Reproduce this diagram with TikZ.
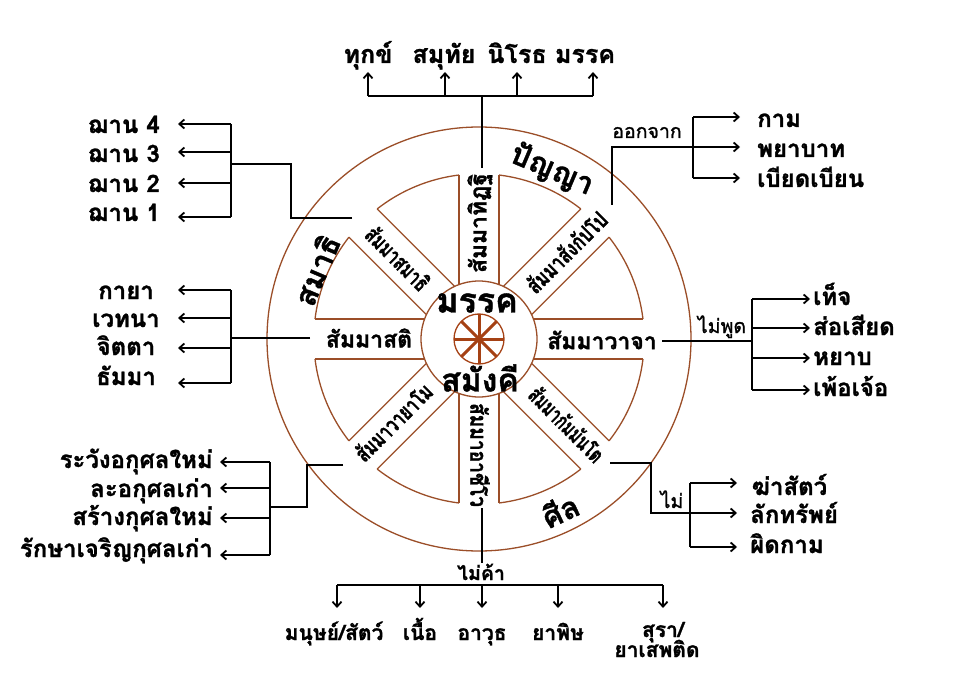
\documentclass[tikz,border=0pt]{standalone}
\usepackage{graphicx}
\usepackage{fontspec}
\setmainfont[Script=Thai, BoldFeatures={FakeBold=1.2}]{Loma}
\newfontfamily\medfont[Script=Thai, FakeBold=1.4]{Loma}
\usetikzlibrary{arrows.meta}
\definecolor{wheelc}{RGB}{155,78,40}
\definecolor{hubc}{RGB}{165,65,20}
\newcommand\fitw[2]{\resizebox{#1}{\height}{#2}}
\begin{document}
\begin{tikzpicture}[x=1pt,y=-1pt,
  conn/.style={line width=1.8pt, draw=black},
  arr/.style={conn, -{Straight Barb[length=5pt,width=9pt]}},
  ring/.style={draw=wheelc, line width=1.3pt},
  spoketxt/.style={font=\bfseries\fontsize{23}{25}\selectfont, inner sep=0pt},
  diagtxt/.style={font=\bfseries\fontsize{23}{25}\selectfont, inner sep=0pt},
  centre/.style={font=\bfseries\fontsize{34}{36}\selectfont, inner sep=0pt},
  big/.style={font=\bfseries\fontsize{30}{32}\selectfont, inner sep=0pt},
  item/.style={font=\bfseries\fontsize{24}{26}\selectfont, inner sep=0pt},
  topitem/.style={font=\bfseries\fontsize{25}{27}\selectfont, inner sep=0pt},
  botitem/.style={font=\bfseries\fontsize{21}{23}\selectfont, inner sep=0pt},
  small/.style={font=\medfont\fontsize{19.5}{21}\selectfont, inner sep=0pt},
  smallb/.style={font=\bfseries\fontsize{19.5}{21}\selectfont, inner sep=0pt},
]
\useasboundingbox (0,0) rectangle (960,676);
\fill[white] (0,0) rectangle (960,676);

% ---------------- wheel ----------------
\begin{scope}[shift={(479,339)}, yscale=-1]
  \draw[ring] (0,0) circle[radius=212];
  \draw[ring] (0,0) circle[radius=58];
  \foreach \a in {0,45,...,315} {
    \draw[ring, rotate=\a] (54.4,20) -- (164,20) (54.4,-20) -- (164,-20);
    \draw[ring] ({\a+6.953}:165.2) arc[start angle={\a+6.953}, end angle={\a+38.047}, radius=165.2];
  }
  \draw[draw=hubc, line width=1.3pt] (0,0) circle[radius=25];
  \foreach \a in {0,45,90,135} \draw[hubc, line width=3pt] (\a:25) -- (\a+180:25);

  \node[diagtxt, rotate=90]  (sdt) at (1,116)    {\fitw{100pt}{สัมมาทิฏฐิ}};
  \node[diagtxt, rotate=45]  (ssk) at (87,87)    {\fitw{104pt}{สัมมาสังกัปโป}};
  \node[spoketxt]            (svj) at (123,-1)   {สัมมาวาจา};
  \node[diagtxt, rotate=-45] (skm) at (88,-85)   {\fitw{96pt}{สัมมากัมมันโต}};
  \node[diagtxt, rotate=-90] (saj) at (1,-116)   {\fitw{104pt}{สัมมาอาชีโว}};
  \node[diagtxt, rotate=45]  (svy) at (-86,-83)  {\fitw{99pt}{สัมมาวายาโม}};
  \node[spoketxt]            (sst) at (-110,1)   {สัมมาสติ};
  \node[diagtxt, rotate=-45] (ssm) at (-81,81)   {\fitw{80pt}{สัมมาสมาธิ}};

  \node[centre] (mk)  at (-2,36)  {มรรค};
  \node[centre, font=\bfseries\fontsize{32}{34}\selectfont] (smk) at (1,-39)  {สมังคี};
  \node[big, rotate=-23] (pny) at (73,169)  {ปัญญา};
  \node[big, rotate=67]  (smt) at (-163,69) {สมาธิ};
  \node[big, rotate=25]  (sil) at (81,-171) {ศีล};
\end{scope}

% ---------------- top: four noble truths ----------------
\node[topitem, anchor=base] (t1) at (368,63) {ทุกข์};
\node[topitem, anchor=base] (t2) at (444,63) {สมุทัย};
\node[topitem, anchor=base] (t3) at (517,63) {นิโรธ};
\node[topitem, anchor=base] (t4) at (585,63) {มรรค};
\coordinate (tj) at (482,96);
\coordinate (ts) at (482,168);
\draw[conn] (ts) -- (tj);
\draw[conn] (368,96) -- (593,96);
\foreach \x in {368,445,517,593} \draw[arr] (\x,96) -- (\x,72);

% ---------------- upper right ----------------
\coordinate (a0) at (612,205);
\coordinate (a1) at (693,147);
\draw[conn] (a0) -- (612,147) -- (a1);
\draw[conn] (693,117) -- (693,178);
\foreach \y in {117,147,178} \draw[arr] (693,\y) -- (740,\y);
\node[small, anchor=base] (ok) at (647,138) {ออกจาก};
\node[item, anchor=base west] (r1) at (757,127) {กาม};
\node[item, anchor=base west] (r2) at (757,157) {พยาบาท};
\node[item, anchor=base west] (r3) at (757,187) {เบียดเบียน};

% ---------------- upper left ----------------
\coordinate (b0) at (352,218);
\coordinate (b1) at (231,164);
\draw[conn] (b0) -- (291,218) -- (291,164) -- (b1);
\draw[conn] (231,124) -- (231,217);
\foreach \y in {124,152,183,217} \draw[arr] (231,\y) -- (178,\y);
\node[item, anchor=base east] (j4) at (160,133) {ฌาน 4};
\node[item, anchor=base east] (j3) at (160,162) {ฌาน 3};
\node[item, anchor=base east] (j2) at (160,192) {ฌาน 2};
\node[item, anchor=base east] (j1) at (160,221) {ฌาน 1};

% ---------------- middle left ----------------
\coordinate (c0) at (310,338);
\coordinate (c1) at (231,338);
\draw[conn] (c0) -- (c1);
\draw[conn] (231,290) -- (231,383);
\foreach \y in {290,318,348,383} \draw[arr] (231,\y) -- (178,\y);
\node[item, anchor=base] (k1) at (126,299) {กายา};
\node[item, anchor=base] (k2) at (126,327) {เวทนา};
\node[item, anchor=base] (k3) at (126,355) {จิตตา};
\node[item, anchor=base] (k4) at (126,385) {ธัมมา};

% ---------------- lower left ----------------
\coordinate (d0) at (343,465);
\coordinate (d1) at (270,507);
\draw[conn] (d0) -- (307,465) -- (307,507) -- (d1);
\draw[conn] (270,462) -- (270,555);
\foreach \y in {462,488,518,555} \draw[arr] (270,\y) -- (220,\y);
\node[item, anchor=base east] (e1) at (213,468) {ระวังอกุศลใหม่};
\node[item, anchor=base east] (e2) at (213,497) {ละอกุศลเก่า};
\node[item, anchor=base east] (e3) at (213,525) {สร้างกุศลใหม่};
\node[item, anchor=base east] (e4) at (213,557) {รักษาเจริญกุศลเก่า};

% ---------------- bottom ----------------
\coordinate (f0) at (482,508);
\coordinate (f1) at (482,563);
\draw[conn] (f0) -- (f1);
\node[smallb, anchor=base] (mkh) at (481,580) {ไม่ค้า};
\draw[conn] (337,585) -- (663,585);
\foreach \x in {337,420,482,558,663} \draw[arr] (\x,585) -- (\x,608);
\node[botitem, anchor=base] (g1) at (334,640) {มนุษย์/สัตว์};
\node[botitem, anchor=base] (g2) at (420,640) {เนื้อ};
\node[botitem, anchor=base] (g3) at (482,640) {อาวุธ};
\node[botitem, anchor=base] (g4) at (558,640) {ยาพิษ};
\node[botitem, anchor=base] (g5) at (663,637) {สุรา/};
\node[botitem, anchor=base] (g6) at (657,657) {ยาเสพติด};

% ---------------- middle right ----------------
\coordinate (h0) at (662,341);
\coordinate (h1) at (752,341);
\draw[conn] (h0) -- (h1);
\draw[conn] (752,299) -- (752,390);
\foreach \y in {299,328,358,390} \draw[arr] (752,\y) -- (810,\y);
\node[small, anchor=base] (mp) at (722,333) {ไม่พูด};
\node[item, anchor=base west] (m1) at (813,305) {เท็จ};
\node[item, anchor=base west] (m2) at (813,335) {ส่อเสียด};
\node[item, anchor=base west] (m3) at (813,365) {หยาบ};
\node[item, anchor=base west] (m4) at (813,396) {เพ้อเจ้อ};

% ---------------- lower right ----------------
\coordinate (n0) at (610,463);
\coordinate (n1) at (690,513);
\draw[conn] (n0) -- (651,463) -- (651,513) -- (n1);
\draw[conn] (690,483) -- (690,547);
\foreach \y in {483,513,547} \draw[arr] (690,\y) -- (737,\y);
\node[small, anchor=base] (mi) at (672,508) {ไม่};
\node[item, anchor=base west] (p1) at (752,495) {ฆ่าสัตว์};
\node[item, anchor=base west] (p2) at (750,523) {ลักทรัพย์};
\node[item, anchor=base west] (p3) at (750,553) {ผิดกาม};
\end{tikzpicture}
\end{document}
